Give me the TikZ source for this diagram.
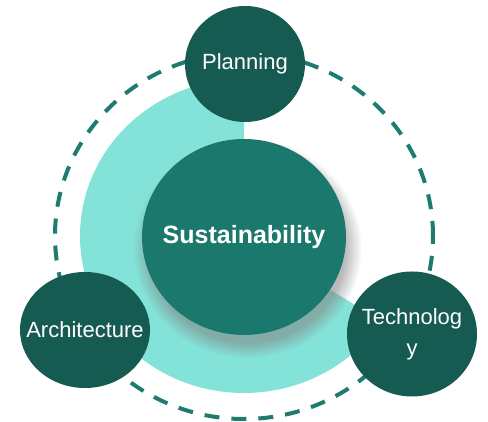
\documentclass[tikz,border=0pt]{standalone}
\usepackage{fontspec}
\setmainfont{Liberation Sans}
\usepackage{tikz}
\usetikzlibrary{shapes,shadows,fadings}
\usepackage{xcolor}
\definecolor{mlight}{HTML}{84E3D8}
\definecolor{mmid}{HTML}{1B786D}
\definecolor{mdark}{HTML}{165B52}
\definecolor{mdash}{HTML}{1E7B6F}
\tikzstyle{outer}=[ellipse, fill=mdark, text=white, inner sep=0pt, font=\fontsize{22}{29}\selectfont]
\tikzstyle{core}=[ellipse, fill=mmid, text=white, inner sep=0pt, font=\fontsize{25}{29}\selectfont\bfseries]
\tikzstyle{l1}=[line width=4, draw=mdash, dash pattern=on 15pt off 12pt]
\newcommand{\nowidth}[1]{\makebox[0pt]{#1}}

\begin{document}
\begin{tikzpicture}[x=1pt, y=1pt]
    \useasboundingbox (0,0) rectangle (488,422);

    % light ring part and dashed orbit
    \fill[mlight] (244,186) -- +(0,157) arc[start angle=90, end angle=327, x radius=164, y radius=157] -- cycle;
    \draw[l1] (244,186) ellipse [x radius=189, y radius=183];

    \node[core, minimum width=204, minimum height=196,
          circular drop shadow={shadow xshift=3pt, shadow yshift=-10pt, shadow scale=1.12, opacity=0.55}]
          at (244,185) (sus) {\nowidth{Sustainability}};

    \node[outer, minimum width=120, minimum height=116] at (245,358) (plan) {\nowidth{Planning}};
    \node[outer, minimum width=130, minimum height=116] at (85,92) (arch) {\nowidth{Architecture}};
    \node[outer, minimum width=130, minimum height=125] at (412,88) (tech)
        {\nowidth{\begin{tabular}{@{}c@{}}Technolog\\[2pt]y\end{tabular}}};
\end{tikzpicture}
\end{document}
